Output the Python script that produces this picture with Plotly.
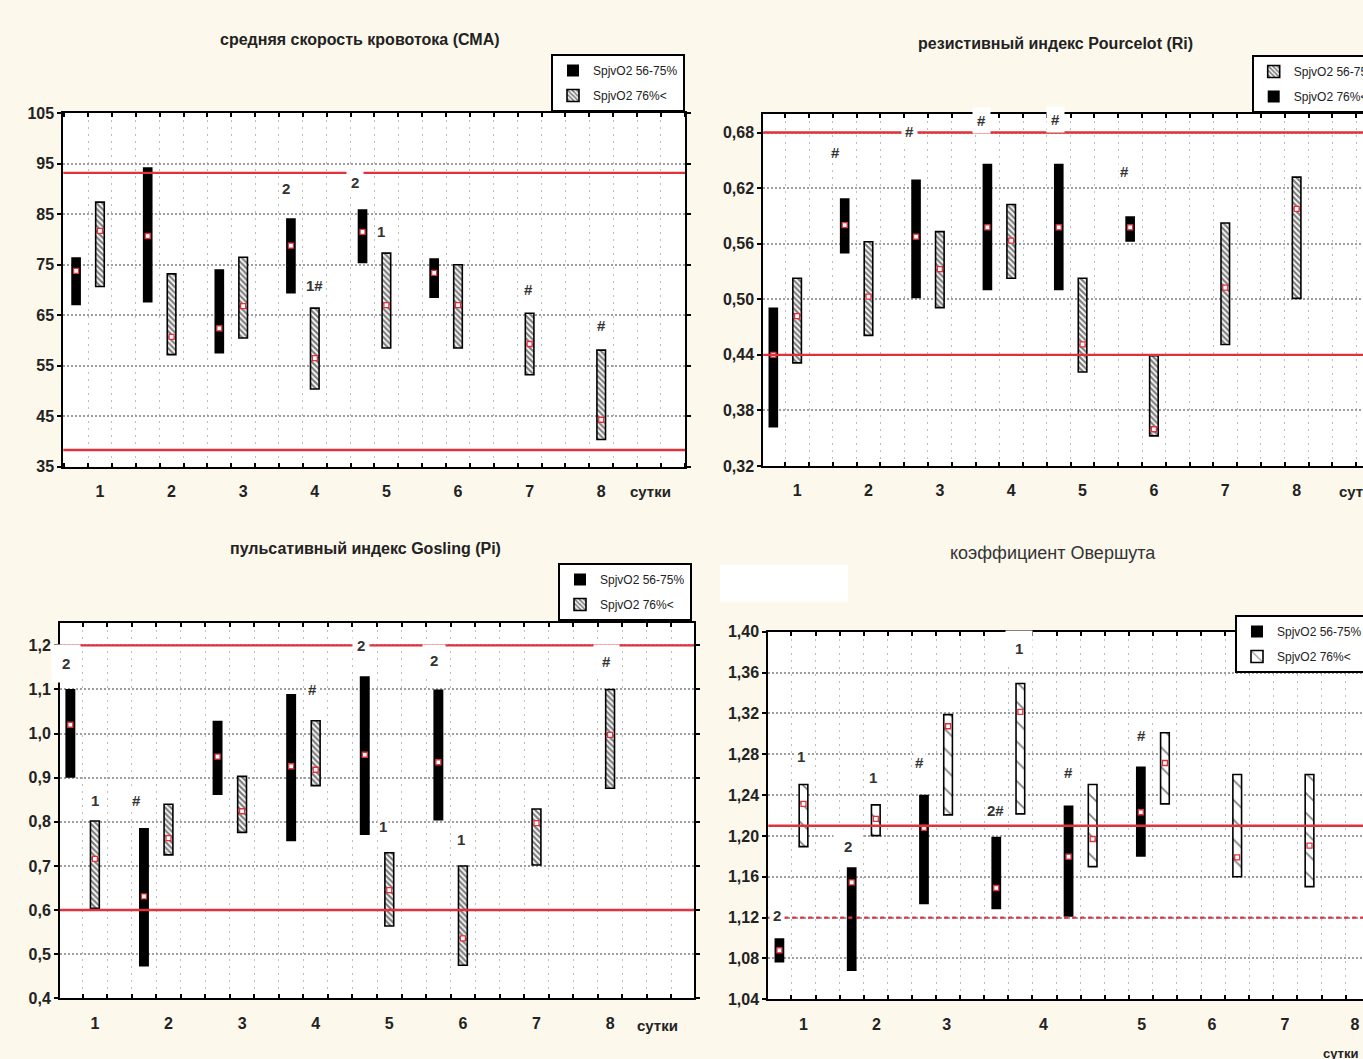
import plotly.graph_objects as go

# ---------------- data ----------------
days_all = [1, 2, 3, 4, 5, 6, 7, 8]
days_low = [1, 2, 3, 4, 5, 6]
x_tick_text = ["1", "2", "3", "4", "5", "6", "7", "8"]

# Panel 1: средняя скорость кровотока (СМА)
cma_lo_a = [67.0, 67.5, 57.4, 69.3, 75.3, 68.4]
cma_hi_a = [76.5, 94.3, 74.1, 84.2, 86.0, 76.3]
cma_med_a = [73.8, 80.7, 62.4, 78.8, 81.5, 73.4]
cma_lo_b = [70.7, 57.2, 60.5, 50.4, 58.5, 58.5, 53.2, 40.4]
cma_hi_b = [87.4, 73.2, 76.5, 66.4, 77.3, 75.0, 65.4, 58.1]
cma_med_b = [81.7, 60.7, 66.8, 56.5, 67.0, 67.0, 59.3, 44.3]
cma_ref = [93.2, 38.3]
cma_notes = [("2", 3.6, 90.1, 1), ("2", 4.56, 91.3, 4), ("1", 4.93, 81.5, 1),
             ("1#", 4.0, 70.9, 1), ("#", 6.98, 70.1, 1), ("#", 8.0, 62.9, 1)]

# Panel 2: резистивный индекс Pourcelot (Ri)
ri_lo_a = [0.3615, 0.5495, 0.501, 0.5097, 0.5097, 0.5621]
ri_hi_a = [0.491, 0.6091, 0.6294, 0.6464, 0.6464, 0.5896]
ri_med_a = [0.440, 0.580, 0.5676, 0.5777, 0.5777, 0.5777]
ri_lo_b = [0.4313, 0.461, 0.491, 0.5227, 0.4215, 0.3525, 0.4512, 0.501]
ri_hi_b = [0.5227, 0.5621, 0.573, 0.6023, 0.5227, 0.4392, 0.5824, 0.6319]
ri_med_b = [0.4819, 0.5029, 0.5325, 0.5632, 0.4512, 0.3597, 0.5126, 0.5976]
ri_ref = [0.68, 0.44]
ri_notes = [("#", 1.54, 0.658, 1), ("#", 2.58, 0.6814, 3), ("#", 3.59, 0.6934, 4),
            ("#", 4.62, 0.694, 4), ("#", 5.59, 0.638, 1)]

# Panel 3: пульсативный индекс Gosling (Pi)
pi_lo_a = [0.90, 0.472, 0.861, 0.756, 0.77, 0.803]
pi_hi_a = [1.101, 0.786, 1.029, 1.09, 1.13, 1.10]
pi_med_a = [1.02, 0.631, 0.948, 0.926, 0.952, 0.935]
pi_lo_b = [0.604, 0.725, 0.776, 0.882, 0.564, 0.475, 0.702, 0.876]
pi_hi_b = [0.802, 0.840, 0.903, 1.029, 0.73, 0.70, 0.829, 1.10]
pi_med_b = [0.716, 0.763, 0.824, 0.918, 0.645, 0.536, 0.797, 0.997]
pi_ref = [1.2, 0.6]
pi_notes = [("2", 0.61, 1.16, 10), ("1", 1.0, 0.849, 1), ("#", 1.56, 0.849, 1),
            ("#", 3.95, 1.10, 1), ("2", 4.61, 1.20, 4), ("2", 5.61, 1.166, 7),
            ("1", 4.92, 0.789, 1), ("1", 5.97, 0.76, 1), ("#", 7.95, 1.164, 8)]

# Panel 4: коэффициент Овершута
ov_lo_a = [1.076, 1.0678, 1.1332, 1.1283, 1.1208, 1.1797]
ov_hi_a = [1.0998, 1.1692, 1.2403, 1.1993, 1.2298, 1.2681]
ov_med_a = [1.088, 1.1545, 1.2079, 1.149, 1.1797, 1.2232]
ov_lo_b = [1.1895, 1.2003, 1.2206, 1.2216, 1.1699, 1.2314, 1.16, 1.1503]
ov_hi_b = [1.2504, 1.2304, 1.3188, 1.3493, 1.2504, 1.3011, 1.2602, 1.2602]
ov_med_b = [1.2314, 1.2167, 1.3074, 1.3214, 1.197, 1.2714, 1.179, 1.1905]
ov_ref_solid = [1.21]
ov_ref_dash = [1.12]
ov_tick_pos = [1.0, 2.01, 2.98, 4.32, 5.68, 6.65, 7.66, 8.63]
ov_notes = [("2", 0.64, 1.122, 3), ("1", 0.965, 1.2773, 1), ("2", 1.62, 1.19, 10),
            ("1", 1.966, 1.2576, 1), ("#", 2.61, 1.2717, 1), ("2#", 3.66, 1.2249, 1),
            ("1", 3.985, 1.3836, 9), ("#", 4.66, 1.2625, 1), ("#", 5.67, 1.2985, 1)]

name_low = "SpjvO2 56-75%"
name_high = "SpjvO2 76%<"

titles = ["средняя скорость кровотока (СМА)", "резистивный индекс Pourcelot (Ri)",
          "пульсативный индекс Gosling (Pi)", "коэффициент Овершута"]

# ---------------- styling ----------------
SANS = "Liberation Sans, Arial, sans-serif"
RED = "#e0323c"
BG = "#fcf8ec"

fig = go.Figure()


def add_panel(n, lo_a, hi_a, med_a, lo_b, hi_b, med_b, name_a, name_b,
              hatch, psize, solid, b_first=False):
    xa = "x" if n == 1 else f"x{n}"
    ya = "y" if n == 1 else f"y{n}"
    lg = "legend" if n == 1 else f"legend{n}"
    xs_a = [d - 1 / 3 for d in days_low]
    bar_a = go.Bar(x=xs_a, y=[h - l for h, l in zip(hi_a, lo_a)], base=lo_a, width=0.135,
                   marker=dict(color="black", line=dict(width=0)), name=name_a,
                   legendgroup=f"a{n}", xaxis=xa, yaxis=ya, legend=lg)
    bar_b = go.Bar(x=days_all, y=[h - l for h, l in zip(hi_b, lo_b)], base=lo_b, width=0.12,
                   marker=dict(color="white", line=dict(color="black", width=1.6),
                               pattern=dict(shape=hatch, fgcolor="black", bgcolor="white",
                                            size=psize, solidity=solid)),
                   name=name_b, legendgroup=f"b{n}", xaxis=xa, yaxis=ya, legend=lg)
    if b_first:
        fig.add_trace(bar_b)
        fig.add_trace(bar_a)
    else:
        fig.add_trace(bar_a)
        fig.add_trace(bar_b)
    for xs, med in ((xs_a, med_a), (days_all, med_b)):
        fig.add_trace(go.Scatter(x=xs, y=med, mode="markers", showlegend=False,
                                 marker=dict(symbol="square", size=5, color="white",
                                             line=dict(color=RED, width=1.3)),
                                 xaxis=xa, yaxis=ya))


add_panel(1, cma_lo_a, cma_hi_a, cma_med_a, cma_lo_b, cma_hi_b, cma_med_b,
          name_low, name_high, "\\", 4, 0.55)
add_panel(2, ri_lo_a, ri_hi_a, ri_med_a, ri_lo_b, ri_hi_b, ri_med_b,
          name_high, name_low, "\\", 4, 0.55, b_first=True)
add_panel(3, pi_lo_a, pi_hi_a, pi_med_a, pi_lo_b, pi_hi_b, pi_med_b,
          name_low, name_high, "\\", 4, 0.55)
add_panel(4, ov_lo_a, ov_hi_a, ov_med_a, ov_lo_b, ov_hi_b, ov_med_b,
          name_low, name_high, "\\", 14, 0.12)

tickfont = dict(family=SANS, size=16, color="#222222", weight="bold")


def xaxis_cfg(domain, rng, anchor, tickvals):
    return dict(domain=domain, range=rng, anchor=anchor, tickmode="array",
                tickvals=tickvals, ticktext=x_tick_text, ticks="", showgrid=False,
                showline=True, linecolor="black", linewidth=2, mirror="allticks",
                zeroline=False, tickfont=tickfont, ticklabelstandoff=9,
                minor=dict(tick0=1 / 6, dtick=1 / 3, showgrid=True, gridcolor="#bdbdbd",
                           griddash="2px,5px", gridwidth=1, ticks="inside", ticklen=4,
                           tickcolor="black", tickwidth=1.5))


def yaxis_cfg(domain, rng, anchor, tick0, dtick, fmt):
    return dict(domain=domain, range=rng, anchor=anchor, tickmode="linear", tick0=tick0,
                dtick=dtick, tickformat=fmt, ticks="outside", ticklen=4, tickwidth=1.5,
                tickcolor="black", showgrid=True, gridcolor="#9e9e9e", griddash="2px,2px",
                gridwidth=1.5, showline=True, linecolor="black", linewidth=2,
                mirror="allticks", zeroline=False, tickfont=tickfont)


W, H = 1363, 1059
fig.update_layout(
    width=W, height=H, paper_bgcolor=BG, plot_bgcolor="white",
    margin=dict(l=0, r=0, t=0, b=0, autoexpand=False),
    barmode="overlay", separators=", ", showlegend=True,
    xaxis=xaxis_cfg([63.3 / W, 685 / W], [0.488, 9.17], "y", days_all),
    yaxis=yaxis_cfg([1 - 466.7 / H, 1 - 113.3 / H], [35, 105], "x", 35, 10, "d"),
    xaxis2=xaxis_cfg([763.3 / W, 1.0], [0.526, 8.93], "y2", days_all),
    yaxis2=yaxis_cfg([1 - 466 / H, 1 - 114 / H], [0.32, 0.70], "x2", 0.32, 0.06, ".2f"),
    xaxis3=xaxis_cfg([60 / W, 694 / W], [0.526, 9.14], "y3", days_all),
    yaxis3=yaxis_cfg([1 - 998.3 / H, 1 - 623.3 / H], [0.4, 1.25], "x3", 0.4, 0.1, ".1f"),
    xaxis4=xaxis_cfg([768.3 / W, 1.0], [0.513, 8.74], "y4", ov_tick_pos),
    yaxis4=yaxis_cfg([1 - 999.3 / H, 1 - 631.7 / H], [1.04, 1.40], "x4", 1.04, 0.04, ".2f"),
)

leg_common = dict(bgcolor="white", bordercolor="black", borderwidth=2,
                  font=dict(family=SANS, size=12, color="#222222"),
                  tracegroupgap=6, itemwidth=30, traceorder="grouped")
fig.update_layout(
    legend=dict(x=685 / W, y=1 - 54 / H, xanchor="right", yanchor="top", **leg_common),
    legend2=dict(x=1251.7 / W, y=1 - 55 / H, xanchor="left", yanchor="top", **leg_common),
    legend3=dict(x=692 / W, y=1 - 563 / H, xanchor="right", yanchor="top", **leg_common),
    legend4=dict(x=1235 / W, y=1 - 615 / H, xanchor="left", yanchor="top", **leg_common),
)

# reference (norm) lines
shapes = []
for xr, yr, vals, dash in (("x", "y", cma_ref, "solid"), ("x2", "y2", ri_ref, "solid"),
                           ("x3", "y3", pi_ref, "solid"), ("x4", "y4", ov_ref_solid, "solid"),
                           ("x4", "y4", ov_ref_dash, "4px,4px")):
    for v in vals:
        shapes.append(dict(type="line", xref=f"{xr} domain", yref=yr, x0=0, x1=1, y0=v, y1=v,
                           line=dict(color=RED, width=2.4, dash=dash), layer="above"))
# blank white patch at the top-left of the 4th panel
shapes.append(dict(type="rect", xref="paper", yref="paper", x0=720 / W, x1=848 / W,
                   y0=1 - 602 / H, y1=1 - 565 / H, fillcolor="white", line=dict(width=0),
                   layer="above"))
fig.update_layout(shapes=shapes)

ann = []
notefont = dict(family=SANS, size=15, color="#333333", weight="bold")
for xr, yr, notes in (("x", "y", cma_notes), ("x2", "y2", ri_notes),
                      ("x3", "y3", pi_notes), ("x4", "y4", ov_notes)):
    for txt, nx, ny, pad in notes:
        ann.append(dict(text=txt, x=nx, y=ny, xref=xr, yref=yr, showarrow=False,
                        xanchor="center", yanchor="middle",
                        font=notefont, bgcolor="white", borderpad=pad))

title_pos = [(360, 40), (1055, 44), (365, 548), (1053, 553)]
for i, (t, (tx, ty)) in enumerate(zip(titles, title_pos)):
    f = dict(family=SANS, size=16, color="#222222", weight="bold") if i < 3 else \
        dict(family=SANS, size=18, color="#333333")
    ann.append(dict(text=t, x=tx / W, y=1 - ty / H, xref="paper", yref="paper",
                    xanchor="center", yanchor="middle", showarrow=False, font=f))

sut_font = dict(family=SANS, size=15, color="#222222", weight="bold")
ann.append(dict(text="сутки", x=8.69, y=1 - 491.7 / H, xref="x", yref="paper",
                xanchor="center", yanchor="middle", showarrow=False, font=sut_font))
ann.append(dict(text="сутки", x=8.57, y=1 - 491 / H, xref="x2", yref="paper",
                xanchor="left", yanchor="middle", showarrow=False, font=sut_font))
ann.append(dict(text="сутки", x=8.65, y=1 - 1025 / H, xref="x3", yref="paper",
                xanchor="center", yanchor="middle", showarrow=False, font=sut_font))
ann.append(dict(text="сутки", x=1340 / W, y=1 - 1053 / H, xref="paper", yref="paper",
                xanchor="center", yanchor="middle", showarrow=False,
                font=dict(family=SANS, size=13, color="#222222", weight="bold")))
fig.update_layout(annotations=ann)

fig.write_html("out.html", config={"displayModeBar": False},
               post_script="document.body.style.margin='0';"
                           "document.body.style.background='#fcf8ec';")
